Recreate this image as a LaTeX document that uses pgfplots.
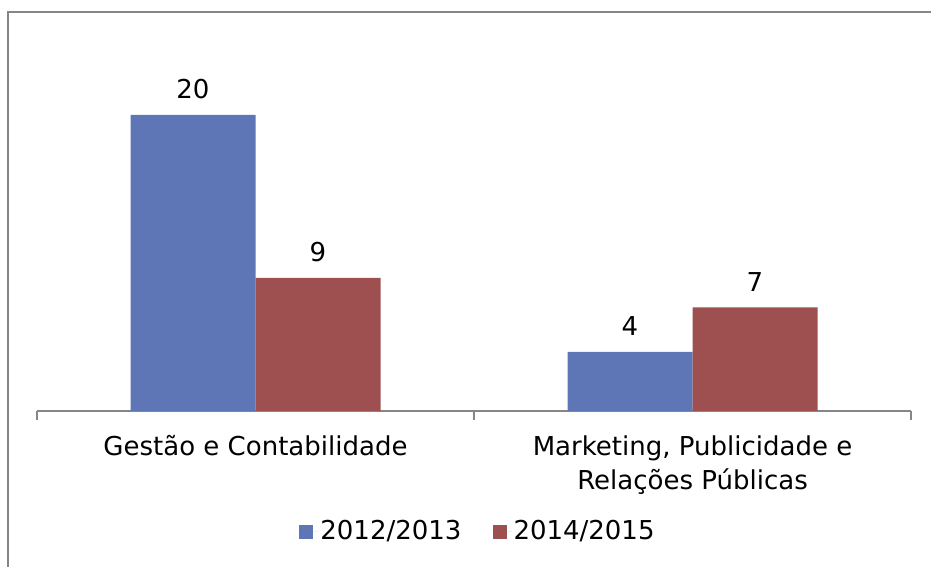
\documentclass[border=0pt]{standalone}
\usepackage{pgfplots}
\pgfplotsset{compat=1.18}
\usepackage{fontspec}
\setmainfont{DejaVu Sans}
\definecolor{cblue}{RGB}{94,118,181}
\definecolor{cred}{RGB}{158,80,80}
\definecolor{cgray}{RGB}{134,134,134}
\begin{document}
\fontsize{26}{34}\selectfont
\begin{tikzpicture}[x=1pt,y=1pt]
\useasboundingbox (0,0) rectangle (931,567);
\draw[cgray, line width=1.5pt] (8,-5) -- (8,555) -- (940,555);
\begin{axis}[
  at={(37pt,156pt)}, anchor=south west,
  scale only axis, width=874pt, height=370pt,
  xmin=-0.5, xmax=1.5, ymin=0, ymax=25,
  ybar=0pt, bar width=125pt,
  axis x line*=bottom, axis y line=none,
  x axis line style={cgray, line width=1.5pt},
  xtick={0,1},
  xticklabels={Gestão e Contabilidade, {Marketing, Publicidade e\\Relações Públicas}},
  major x tick style={draw=none},
  minor xtick={-0.5,0.5,1.5},
  minor x tick style={cgray, line width=1.5pt},
  minor tick length=9pt,
  xtick align=outside,
  xticklabel style={align=center, font=\fontsize{26}{34}\selectfont, inner sep=0pt, yshift=-20pt},
  /pgf/number format/assume math mode=true,
  nodes near coords,
  every node near coord/.append style={anchor=south, inner sep=0pt, yshift=16pt, font=\fontsize{26}{30}\selectfont, text=black},
  legend style={at={(0.5046,-0.327)}, anchor=center, draw=none, fill=none, font=\fontsize{26}{30}\selectfont,
    /tikz/every even column/.append style={column sep=29pt}},
  legend columns=2,
  legend image code/.code={\fill[#1] (0pt,-7pt) rectangle (14pt,7pt); \path (0pt,0pt) -- (19pt,0pt);},
]
\addplot[fill=cblue, draw=none] coordinates {(0,20) (1,4)};
\addplot[fill=cred, draw=none] coordinates {(0,9) (1,7)};
\legend{2012/2013, 2014/2015}
\end{axis}
\end{tikzpicture}
\end{document}
